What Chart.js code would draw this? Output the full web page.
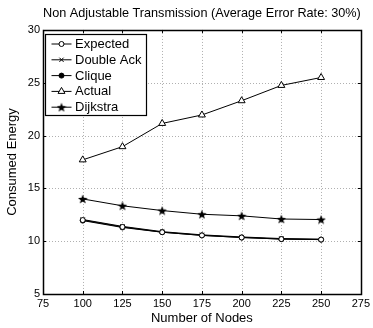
<!DOCTYPE html>
<html>
<head>
<meta charset="utf-8">
<script src="https://cdn.jsdelivr.net/npm/chart.js@4.4.1/dist/chart.umd.min.js"></script>
<style>
  html, body { margin: 0; padding: 0; background: #fff; }
</style>
</head>
<body>
<canvas id="energyChart" width="373" height="328"></canvas>
<script>
// values
const nodes = [100, 125, 150, 175, 200, 225, 250];
const expected = [12.0, 11.35, 10.85, 10.55, 10.35, 10.2, 10.15];
const doubleAck = [12.05, 11.4, 10.9, 10.6, 10.4, 10.25, 10.2];
const clique = [11.95, 11.3, 10.85, 10.55, 10.35, 10.2, 10.15];
const actual = [17.7, 18.95, 21.15, 21.95, 23.3, 24.75, 25.5];
const dijkstra = [14.0, 13.35, 12.9, 12.55, 12.4, 12.1, 12.05];
const xTicks = [75, 100, 125, 150, 175, 200, 225, 250, 275];
const yTicks = [5, 10, 15, 20, 25, 30];

const FONT = "'Liberation Sans', Arial, Helvetica, sans-serif";

// filled five point star, like matlab's 'p' marker
function makeStar(size) {
    const c = document.createElement('canvas');
    c.width = size; c.height = size;
    const g = c.getContext('2d');
    const cx = size / 2, cy = size / 2, ro = size / 2, ri = ro * 0.42;
    g.beginPath();
    for (let i = 0; i < 10; i++) {
        const r = i % 2 ? ri : ro;
        const a = -Math.PI / 2 + i * Math.PI / 5;
        g.lineTo(cx + r * Math.cos(a), cy + r * Math.sin(a) + 0.5);
    }
    g.closePath();
    g.fillStyle = '#000';
    g.fill();
    return c;
}
const starImg = makeStar(10);

function series(label, data, style, radius, fill) {
    return {
        label: label,
        data: data.map((v, i) => ({ x: nodes[i], y: v })),
        borderColor: '#000',
        borderWidth: 1,
        pointStyle: style,
        pointRadius: radius,
        pointBorderWidth: 1,
        pointBorderColor: '#000',
        pointBackgroundColor: fill,
        tension: 0,
        fill: false
    };
}

// dotted grid lines, box frame and inward tick marks
const axesBox = {
    id: 'axesBox',
    beforeDatasetsDraw(chart) {
        const { ctx, chartArea: a, scales: { x, y } } = chart;
        ctx.save();
        ctx.strokeStyle = '#b0b0b0';
        ctx.lineWidth = 1;
        ctx.setLineDash([1, 2]);
        xTicks.slice(1, -1).forEach(v => {
            const px = Math.round(x.getPixelForValue(v)) + 0.5;
            ctx.beginPath(); ctx.moveTo(px, a.top); ctx.lineTo(px, a.bottom); ctx.stroke();
        });
        yTicks.slice(1, -1).forEach(v => {
            const py = Math.round(y.getPixelForValue(v)) + 0.5;
            ctx.beginPath(); ctx.moveTo(a.left, py); ctx.lineTo(a.right, py); ctx.stroke();
        });
        ctx.restore();
    },
    afterDatasetsDraw(chart) {
        const { ctx, chartArea: a, scales: { x, y } } = chart;
        const t = 3;
        ctx.save();
        ctx.strokeStyle = '#000';
        ctx.lineWidth = 1;
        ctx.beginPath();
        xTicks.forEach(v => {
            const px = Math.round(x.getPixelForValue(v)) + 0.5;
            ctx.moveTo(px, a.bottom); ctx.lineTo(px, a.bottom - t);
            ctx.moveTo(px, a.top); ctx.lineTo(px, a.top + t);
        });
        yTicks.forEach(v => {
            const py = Math.round(y.getPixelForValue(v)) + 0.5;
            ctx.moveTo(a.left, py); ctx.lineTo(a.left + t, py);
            ctx.moveTo(a.right, py); ctx.lineTo(a.right - t, py);
        });
        ctx.stroke();
        ctx.lineWidth = 1.5;
        ctx.strokeRect(Math.round(a.left) + 0.5, Math.round(a.top) + 0.5,
            Math.round(a.right - a.left), Math.round(a.bottom - a.top));
        ctx.restore();
    }
};

// matlab style legend: line sample with marker, boxed
const boxLegend = {
    id: 'boxLegend',
    afterDraw(chart) {
        const ctx = chart.ctx;
        const left = 45.5, top = 34.5, w = 101, h = 81, rowH = 15.8, firstRow = 44;
        ctx.save();
        ctx.fillStyle = '#fff';
        ctx.fillRect(left, top, w, h);
        ctx.strokeStyle = '#000';
        ctx.lineWidth = 1.2;
        ctx.strokeRect(left, top, w, h);
        ctx.font = '13px ' + FONT;
        ctx.textBaseline = 'middle';
        chart.data.datasets.forEach((ds, i) => {
            const yy = firstRow + i * rowH;
            ctx.strokeStyle = '#000';
            ctx.lineWidth = 1;
            ctx.beginPath(); ctx.moveTo(51.5, yy); ctx.lineTo(71.5, yy); ctx.stroke();
            ctx.fillStyle = ds.pointBackgroundColor;
            Chart.helpers.drawPoint(ctx, {
                pointStyle: ds.pointStyle,
                radius: ds.pointRadius,
                rotation: 0,
                borderWidth: 1
            }, 61.5, yy);
            ctx.fillStyle = '#000';
            ctx.fillText(ds.label, 75, yy + 0.5);
        });
        ctx.restore();
    }
};

const ctx = document.getElementById('energyChart').getContext('2d');
const energyChart = new Chart(ctx, {
    type: 'line',
    data: {
        datasets: [
            series('Expected', expected, 'circle', 2.5, '#fff'),
            series('Double Ack', doubleAck, 'crossRot', 3, '#000'),
            series('Clique', clique, 'circle', 2.5, '#000'),
            series('Actual', actual, 'triangle', 4, '#fff'),
            series('Dijkstra', dijkstra, starImg, 5, '#000')
        ]
    },
    options: {
        responsive: false,
        animation: false,
        layout: { padding: { left: 0, right: 11, top: 0, bottom: 0 } },
        scales: {
            x: {
                type: 'linear',
                min: 75,
                max: 275,
                afterBuildTicks: s => { s.ticks = xTicks.map(v => ({ value: v })); },
                afterFit: s => { s.height = 34; },
                grid: { display: false, drawTicks: false },
                border: { display: false },
                ticks: { color: '#000', font: { family: FONT, size: 11 }, padding: 3, maxRotation: 0, autoSkip: false },
                title: { display: true, text: 'Number of Nodes', color: '#000', font: { family: FONT, size: 13 }, padding: { top: 0, bottom: 2 } }
            },
            y: {
                type: 'linear',
                min: 5,
                max: 30,
                afterBuildTicks: s => { s.ticks = yTicks.map(v => ({ value: v })); },
                afterFit: s => { s.width = 43; },
                grid: { display: false, drawTicks: false },
                border: { display: false },
                ticks: { color: '#000', font: { family: FONT, size: 11 }, padding: 3 },
                title: { display: true, text: 'Consumed Energy', color: '#000', font: { family: FONT, size: 13 }, padding: { top: 5, bottom: 0 } }
            }
        },
        plugins: {
            legend: { display: false },
            tooltip: { enabled: false },
            title: {
                display: true,
                fullSize: false,
                text: 'Non Adjustable Transmission (Average Error Rate: 30%)',
                color: '#000',
                font: { family: FONT, size: 12.8, weight: 'normal' },
                padding: { top: 6, bottom: 8.6 }
            }
        }
    },
    plugins: [axesBox, boxLegend]
});
</script>
</body>
</html>
